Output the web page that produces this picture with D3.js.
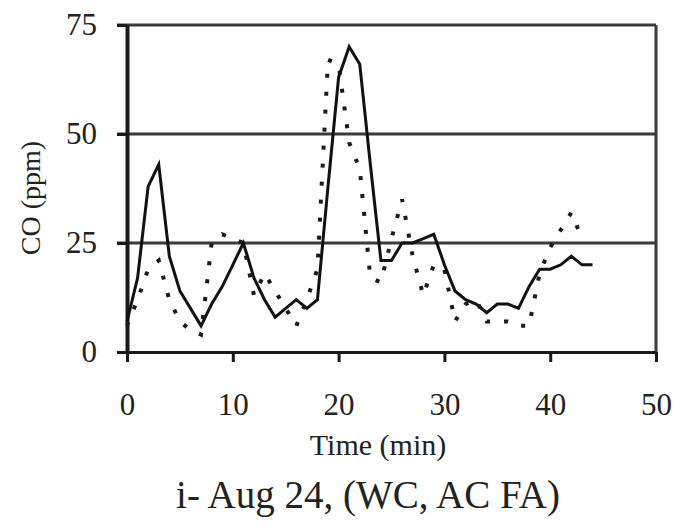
<!DOCTYPE html>
<html>
<head>
<meta charset="utf-8">
<script src="https://cdn.jsdelivr.net/npm/d3@7"></script>
<style>
  html, body { margin: 0; padding: 0; background: #fff; }
  svg { display: block; }
  text { font-family: "Liberation Serif", "Times New Roman", serif; fill: #222; }
</style>
</head>
<body>
<svg id="chart" width="677" height="530"></svg>
<script>
// Time axis (minutes) shared by both CO series
const timeMin = d3.range(0, 45);
// Solid series, CO (ppm) each minute
const coSolid = [7, 17, 38, 43, 22, 14, 10, 6, 11, 15, 20, 25, 17, 12, 8, 10, 12, 10, 12, 38,
                 63, 70, 66, 43, 21, 21, 25, 25, 26, 27, 20, 14, 12, 11, 9, 11, 11, 10, 15, 19,
                 19, 20, 22, 20, 20];
// Dotted series, CO (ppm) each minute
const coDotted = [6, 12, 19, 21, 12, 7, 5, 4, 25, 27, 26, 25, 13, 18, 14, 10, 6, 12, 19, 67,
                  66, 48, 42, 17, 16, 26, 35, 22, 13, 20, 19, 7, 11, 12, 7, 7, 7, 6, 6, 18,
                  24, 28, 32, 26];
const yTicks = [0, 25, 50, 75];
const xTicks = [0, 10, 20, 30, 40, 50];
const yTitle = "CO (ppm)";
const xTitle = "Time (min)";
const caption = "i- Aug 24, (WC, AC FA)";

const svg = d3.select("#chart");
const x = d3.scaleLinear().domain([0, 50]).range([127, 656]);
const y = d3.scaleLinear().domain([0, 75]).range([352, 25]);

// horizontal gridlines (including the top frame line at 75)
svg.append("g")
  .selectAll("line")
  .data(yTicks.filter(v => v > 0))
  .join("line")
  .attr("x1", x(0) - 10).attr("x2", x(50))
  .attr("y1", d => y(d)).attr("y2", d => y(d))
  .attr("stroke", "#3a3a3a").attr("stroke-width", 3);

// right frame edge
svg.append("line")
  .attr("x1", x(50)).attr("x2", x(50))
  .attr("y1", y(75)).attr("y2", y(0))
  .attr("stroke", "#3a3a3a").attr("stroke-width", 3);

// y axis
const yAxis = svg.append("g")
  .attr("transform", `translate(${x(0)},0)`)
  .call(d3.axisLeft(y).tickValues(yTicks).tickSize(10).tickPadding(20).tickSizeOuter(0));
yAxis.select(".domain").attr("stroke", "#1a1a1a").attr("stroke-width", 4);
yAxis.selectAll(".tick line").attr("stroke", "#1a1a1a").attr("stroke-width", 3);
yAxis.selectAll(".tick text")
  .style("font-family", "'Liberation Serif', serif")
  .style("font-size", "31px").attr("fill", "#222");

// x axis
const xAxis = svg.append("g")
  .attr("transform", `translate(0,${y(0)})`)
  .call(d3.axisBottom(x).tickValues(xTicks).tickSize(10).tickPadding(31).tickSizeOuter(0));
xAxis.select(".domain").attr("stroke", "#1a1a1a").attr("stroke-width", 3);
xAxis.selectAll(".tick line").attr("stroke", "#1a1a1a").attr("stroke-width", 3);
xAxis.selectAll(".tick text")
  .style("font-family", "'Liberation Serif', serif")
  .style("font-size", "31px").attr("fill", "#222");

// series lines
const line = d3.line().x(d => x(d[0])).y(d => y(d[1]));

svg.append("path")
  .datum(coDotted.map((v, i) => [timeMin[i], v]))
  .attr("d", line)
  .attr("fill", "none")
  .attr("stroke", "#1a1a1a")
  .attr("stroke-width", 4)
  .attr("stroke-dasharray", "4,14");

svg.append("path")
  .datum(coSolid.map((v, i) => [timeMin[i], v]))
  .attr("d", line)
  .attr("fill", "none")
  .attr("stroke", "#111")
  .attr("stroke-width", 3)
  .attr("stroke-linejoin", "miter");

// titles
svg.append("text")
  .attr("transform", "translate(40,198) rotate(-90)")
  .attr("text-anchor", "middle")
  .style("font-size", "28px")
  .text(yTitle);

svg.append("text")
  .attr("x", 378).attr("y", 455)
  .attr("text-anchor", "middle")
  .style("font-size", "30px")
  .text(xTitle);

svg.append("text")
  .attr("x", 368).attr("y", 508)
  .attr("text-anchor", "middle")
  .style("font-size", "39px")
  .text(caption);
</script>
</body>
</html>
